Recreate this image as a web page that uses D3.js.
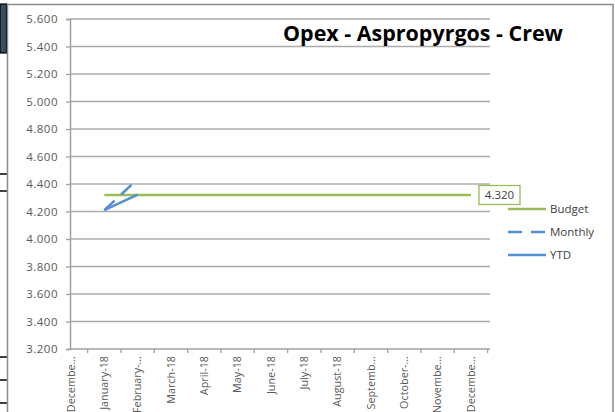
<!DOCTYPE html>
<html>
<head>
<meta charset="utf-8">
<script src="https://cdn.jsdelivr.net/npm/d3@7"></script>
<style>
  html, body { margin: 0; padding: 0; background: #fff; }
  svg { display: block; font-family: "Open Sans", sans-serif; }
</style>
</head>
<body>
<div id="chart"></div>
<script>
// Opex - Aspropyrgos - Crew: budget vs monthly / YTD line chart

const categories = ["December-17", "January-18", "February-18", "March-18", "April-18", "May-18",
  "June-18", "July-18", "August-18", "September-18", "October-18", "November-18", "December-18"];
const tickLabels = ["Decembe…", "January-18", "February-…", "March-18", "April-18", "May-18",
  "June-18", "July-18", "August-18", "Septemb…", "October-…", "Novembe…", "Decembe…"];
const budget = [null, 4320, 4320, 4320, 4320, 4320, 4320, 4320, 4320, 4320, 4320, 4320, 4320];
const monthly = [null, 4210, 4436, null, null, null, null, null, null, null, null, null, null];
const ytd = [null, 4210, 4323, null, null, null, null, null, null, null, null, null, null];
const yTicks = [3200, 3400, 3600, 3800, 4000, 4200, 4400, 4600, 4800, 5000, 5200, 5400, 5600];

const W = 615, H = 412;
const plot = { left: 70, right: 490, top: 19, bottom: 349 };

const locale = d3.formatLocale({ decimal: ",", thousands: ".", grouping: [3], currency: ["", ""] });
const fmt = locale.format(",.0f");

const svg = d3.select("#chart").append("svg")
  .attr("width", W)
  .attr("height", H);

// sheet artefacts around the chart object
svg.append("rect").attr("x", 0).attr("y", 4).attr("width", 6.5).attr("height", 49)
  .attr("fill", "#3d4b5f").attr("stroke", "#000").attr("stroke-width", 1.2);
[174, 191, 357, 380, 403].forEach(y => {
  svg.append("line").attr("x1", 0).attr("x2", 7).attr("y1", y).attr("y2", y)
    .attr("stroke", "#000").attr("stroke-width", 1.5);
});

// chart border
svg.append("path")
  .attr("d", `M7.5,${H} V4.5 H613 V${H}`)
  .attr("fill", "none").attr("stroke", "#8c8c8c").attr("stroke-width", 1.5);

const x = d3.scalePoint().domain(categories).range([71, 471]);
const step = x.step();
const y = d3.scaleLinear().domain([3200, 5600]).range([plot.bottom, plot.top]);

// gridlines
svg.append("g").selectAll("line").data(yTicks.filter(d => d !== 3200)).join("line")
  .attr("x1", plot.left).attr("x2", plot.right)
  .attr("y1", d => y(d)).attr("y2", d => y(d))
  .attr("stroke", "#ababab").attr("stroke-width", 1.5);

// y axis
const yAxis = svg.append("g")
  .attr("transform", `translate(${plot.left},0)`)
  .call(d3.axisLeft(y).tickValues(yTicks).tickSize(4).tickPadding(8).tickFormat(fmt));
yAxis.select(".domain").attr("stroke", "#a0a0a0").attr("stroke-width", 1.5);
yAxis.selectAll(".tick line").attr("stroke", "#a0a0a0").attr("stroke-width", 1.3);
yAxis.selectAll(".tick text")
  .attr("fill", "#595959").attr("font-size", 11.5).attr("letter-spacing", 0.5)
  .attr("font-family", "Open Sans, sans-serif");

// x axis
const xg = svg.append("g");
xg.append("line")
  .attr("x1", plot.left).attr("x2", plot.right)
  .attr("y1", plot.bottom).attr("y2", plot.bottom)
  .attr("stroke", "#a0a0a0").attr("stroke-width", 1.5);
xg.selectAll("line.tk").data(categories).join("line")
  .attr("class", "tk")
  .attr("x1", d => x(d) + step / 2).attr("x2", d => x(d) + step / 2)
  .attr("y1", plot.bottom).attr("y2", plot.bottom + 4)
  .attr("stroke", "#a0a0a0").attr("stroke-width", 1.3);
xg.selectAll("text").data(categories).join("text")
  .attr("transform", d => `translate(${x(d)},${plot.bottom + 7}) rotate(-90)`)
  .attr("dy", "0.35em")
  .attr("text-anchor", "end")
  .attr("fill", "#595959").attr("font-size", 10.8)
  .text((d, i) => tickLabels[i]);

// series
const line = d3.line()
  .defined(d => d.v !== null)
  .x(d => x(d.c))
  .y(d => y(d.v));
const pts = arr => arr.map((v, i) => ({ c: categories[i], v }));

svg.append("path").datum(pts(budget))
  .attr("d", line).attr("fill", "none")
  .attr("stroke", "#9bbb59").attr("stroke-width", 2.6);
svg.append("path").datum(pts(monthly))
  .attr("d", line).attr("fill", "none")
  .attr("stroke", "#558ed5").attr("stroke-width", 2.6)
  .attr("stroke-dasharray", "14,9");
svg.append("path").datum(pts(ytd))
  .attr("d", line).attr("fill", "none")
  .attr("stroke", "#558ed5").attr("stroke-width", 2.6);

// data label on the last budget point
const lastIdx = budget.length - 1;
const lx = x(categories[lastIdx]) + 8, ly = y(budget[lastIdx]);
svg.append("rect")
  .attr("x", lx).attr("y", ly - 9.5).attr("width", 41).attr("height", 19)
  .attr("fill", "#fff").attr("stroke", "#9bbb59").attr("stroke-width", 1.3);
svg.append("text")
  .attr("x", lx + 20.5).attr("y", ly).attr("dy", "0.35em")
  .attr("text-anchor", "middle").attr("font-size", 11.5).attr("fill", "#404040")
  .text(fmt(budget[lastIdx]));

// title
svg.append("text")
  .attr("x", 283).attr("y", 41)
  .attr("font-size", 20.5).attr("font-weight", 700).attr("fill", "#000")
  .attr("textLength", 280).attr("lengthAdjust", "spacingAndGlyphs")
  .text("Opex - Aspropyrgos - Crew");

// legend
const legend = [
  { name: "Budget", color: "#9bbb59", dash: null },
  { name: "Monthly", color: "#558ed5", dash: "14,9" },
  { name: "YTD", color: "#558ed5", dash: null }
];
const lg = svg.append("g").selectAll("g").data(legend).join("g")
  .attr("transform", (d, i) => `translate(508,${209 + i * 23})`);
lg.append("line")
  .attr("x1", 0).attr("x2", 38)
  .attr("stroke", d => d.color).attr("stroke-width", 2.6)
  .attr("stroke-dasharray", d => d.dash);
lg.append("text")
  .attr("x", 42).attr("dy", "0.35em")
  .attr("font-size", 11.5).attr("fill", "#404040")
  .text(d => d.name);
</script>
</body>
</html>
